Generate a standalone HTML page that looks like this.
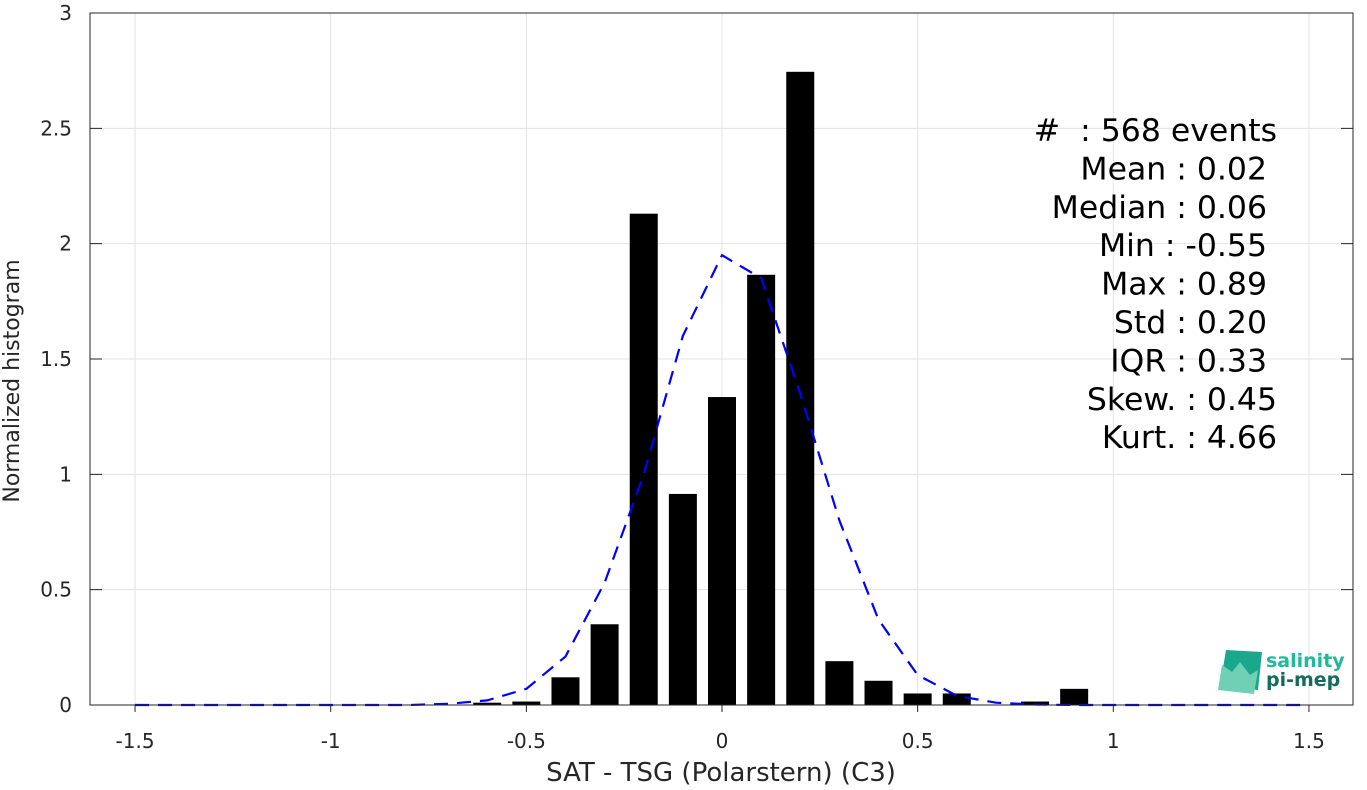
<!DOCTYPE html>
<html><head><meta charset="utf-8"><style>
body{margin:0;background:#fff;}
svg text{font-family:"DejaVu Sans","Liberation Sans",sans-serif;white-space:pre;}
</style></head><body>
<svg id="chart" width="1367" height="785" xmlns="http://www.w3.org/2000/svg">
<g id="grid"></g>
<g id="bars"></g>
<path id="fit" fill="none" stroke="#0000ff" stroke-width="2.2" stroke-dasharray="14,9"/>
<rect x="90" y="13" width="1263" height="692" fill="none" stroke="#262626" stroke-width="1"/>
<g id="ticks"></g>
<text x="721" y="781" font-size="26" text-anchor="middle" fill="#262626">SAT - TSG (Polarstern) (C3)</text>
<text transform="translate(19,381) rotate(-90)" font-size="22" text-anchor="middle" fill="#262626">Normalized histogram</text>
<g id="stats" font-size="31.5" text-anchor="end" fill="#000"></g>
<g>
<path d="M1226 650 L1262 652 L1258 690 L1220 686 Z" fill="#1aa88c"/>
<path d="M1218 690 L1222 665 L1232 672 L1240 662 L1250 675 L1258 670 L1254 694 Z" fill="#6fd0b4"/>
<text x="1266" y="667" font-size="19" font-weight="bold" fill="#1fb99c">salinity</text>
<text x="1266" y="686" font-size="19" font-weight="bold" fill="#156b5c">pi-mep</text>
</g>
</svg>
<script>
const barCenters=[-0.6,-0.5,-0.4,-0.3,-0.2,-0.1,0,0.1,0.2,0.3,0.4,0.5,0.6,0.7,0.8,0.9];
const barValues=[0.01,0.015,0.12,0.35,2.13,0.915,1.335,1.865,2.745,0.19,0.105,0.05,0.05,0,0.015,0.07];
const fitX=[-1.5,-1.4,-1.3,-1.2,-1.1,-1.0,-0.9,-0.8,-0.7,-0.6,-0.5,-0.4,-0.3,-0.2,-0.1,0,0.1,0.2,0.3,0.4,0.5,0.6,0.7,0.8,0.9,1.0,1.1,1.2,1.3,1.4,1.5];
const fitY=[0,0,0,0,0,0,0,0,0.005,0.02,0.07,0.21,0.53,1.0,1.6,1.95,1.85,1.35,0.8,0.37,0.13,0.04,0.01,0.002,0,0,0,0,0,0,0];
const xTicks=[-1.5,-1,-0.5,0,0.5,1,1.5];
const xTickLabels=["-1.5","-1","-0.5","0","0.5","1","1.5"];
const yTicks=[0,0.5,1,1.5,2,2.5,3];
const yTickLabels=["0","0.5","1","1.5","2","2.5","3"];
const statLines=["#  : 568 events","Mean : 0.02","Median : 0.06","Min : -0.55","Max : 0.89","Std : 0.20","IQR : 0.33","Skew. : 0.45","Kurt. : 4.66"];
const statRight=[1277,1267,1267,1267,1267,1267,1267,1277,1277];
const NS="http://www.w3.org/2000/svg";
const X=v=>722+v*391.3, Y=v=>705-v*230.67;
function mk(t,a,p){const e=document.createElementNS(NS,t);for(const k in a)e.setAttribute(k,a[k]);p.appendChild(e);return e;}
const grid=document.getElementById('grid'),ticks=document.getElementById('ticks');
xTicks.forEach((v,i)=>{
 const g=mk('line',{x1:X(v),x2:X(v),y1:13,y2:705,stroke:'#e3e3e3','stroke-width':1},grid);
 
 
 const t=mk('line',{x1:X(v),x2:X(v),y1:705,y2:712,stroke:'#262626'},ticks);
 
 
 const l=mk('text',{x:X(v),y:748,'font-size':20,'text-anchor':'middle',fill:'#262626'},ticks);
 l.textContent=xTickLabels[i];
 
 
});
yTicks.forEach((v,i)=>{
 const g=mk('line',{x1:90,x2:1353,y1:Y(v),y2:Y(v),stroke:'#e3e3e3','stroke-width':1},grid);
 
 
 const t=mk('path',{d:`M90 ${Y(v)}h12M1353 ${Y(v)}h-12`,stroke:'#262626'},ticks);
 
 
 const l=mk('text',{x:72,y:Y(v)+7,'font-size':20,'text-anchor':'end',fill:'#262626'},ticks);
 l.textContent=yTickLabels[i];
 
 
});
const bars=document.getElementById('bars');
barCenters.forEach((c,i)=>{
 const h=barValues[i]*230.67;
 const r=mk('rect',{x:X(c)-14,y:705-h,width:28,height:h,fill:'#000'},bars);
 
 
});
document.getElementById('fit').setAttribute('d',fitX.map((x,i)=>(i?'L':'M')+X(x)+' '+Y(fitY[i])).join(''));
const stats=document.getElementById('stats');
statLines.forEach((s,i)=>{
 const t=mk('text',{x:statRight[i],y:141+i*38.4},stats);
 t.textContent=s;
 
 
});
</script>
</body></html>
